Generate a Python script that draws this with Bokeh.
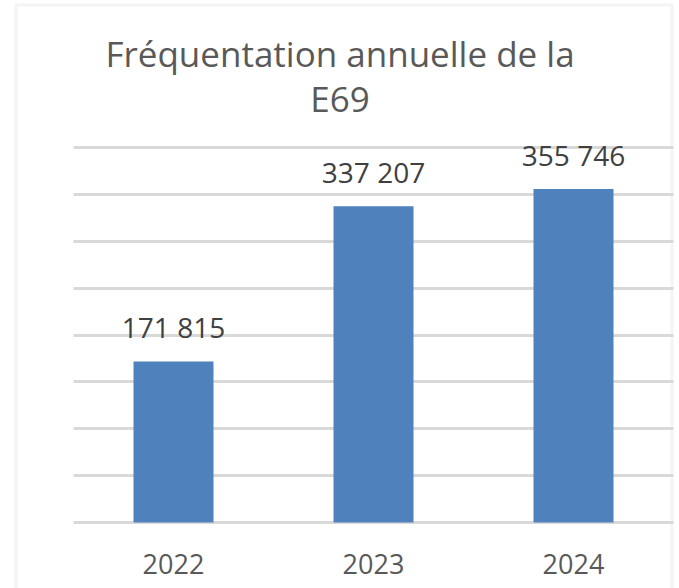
from bokeh.plotting import figure
from bokeh.models import ColumnDataSource, Range1d, FixedTicker, Label, BoxAnnotation
from bokeh.embed import file_html
from bokeh.resources import INLINE
from bokeh.core.properties import value

# ---- data ----
years = ["2022", "2023", "2024"]
visitors = [171815, 337207, 355746]
value_labels = ["171 815", "337 207", "355 746"]
grid_ticks = [0, 50000, 100000, 150000, 200000, 250000, 300000, 350000, 400000]
title_lines = ["Fréquentation annuelle de la", "E69"]

FONT = "Open Sans"
BAR = "#4f81bd"
GRID = "#d9d9d9"

# category slots: one unit per year, bar centred in its slot
xs = [i + 0.5 for i in range(len(years))]
src = ColumnDataSource(dict(x=xs, visitors=visitors, label=value_labels))

W, H = 679, 588
slot_px = 200.0
plot_left = 73.0
base_y = 522.0
px_per_unit = 375.0 / 400000

x_range = Range1d(-plot_left / slot_px, (W - plot_left) / slot_px)
y_range = Range1d(-(H - base_y) / px_per_unit, base_y / px_per_unit)

p = figure(
    x_range=x_range, y_range=y_range,
    width=W, height=H,
    output_backend="svg", toolbar_location=None,
    min_border=0,
)
p.title.visible = False
p.outline_line_color = None
p.background_fill_color = "white"
p.border_fill_color = "white"

p.vbar(x="x", top="visitors", width=0.4, source=src, fill_color=BAR, line_color=None)

p.text(x="x", y="visitors", text="label", source=src,
       text_font=value(FONT), text_font_size="28px", text_color="#404040",
       text_align="center", text_baseline="alphabetic", y_offset=-34)

p.xgrid.visible = False
p.yaxis.visible = False
p.ygrid.ticker = FixedTicker(ticks=grid_ticks)
p.ygrid.cross_bounds = (0, len(years))
p.ygrid.grid_line_color = GRID
p.ygrid.grid_line_width = 3

ax = p.xaxis[0]
ax.ticker = FixedTicker(ticks=xs)
ax.major_label_overrides = {x: y for x, y in zip(xs, years)}
ax.fixed_location = 0
ax.axis_line_color = None
ax.major_tick_line_color = None
ax.minor_tick_line_color = None
ax.major_label_text_font = FONT
ax.major_label_text_font_size = "27px"
ax.major_label_text_color = "#595959"
ax.major_label_standoff = 25

# chart border
p.add_layout(BoxAnnotation(left=15.5, right=671.5, top=4.5, bottom=700,
                           left_units="canvas", right_units="canvas",
                           top_units="canvas", bottom_units="canvas",
                           fill_color=None, line_color=GRID, line_width=3))

# title
for txt, yb in zip(title_lines, [53, 98]):
    p.add_layout(Label(x=339.5, y=yb, x_units="canvas", y_units="canvas", text=txt,
                       text_font=FONT, text_font_size="35px", text_color="#595959",
                       text_align="center", text_baseline="alphabetic"))

open("out.html", "w").write(file_html(p, INLINE))
